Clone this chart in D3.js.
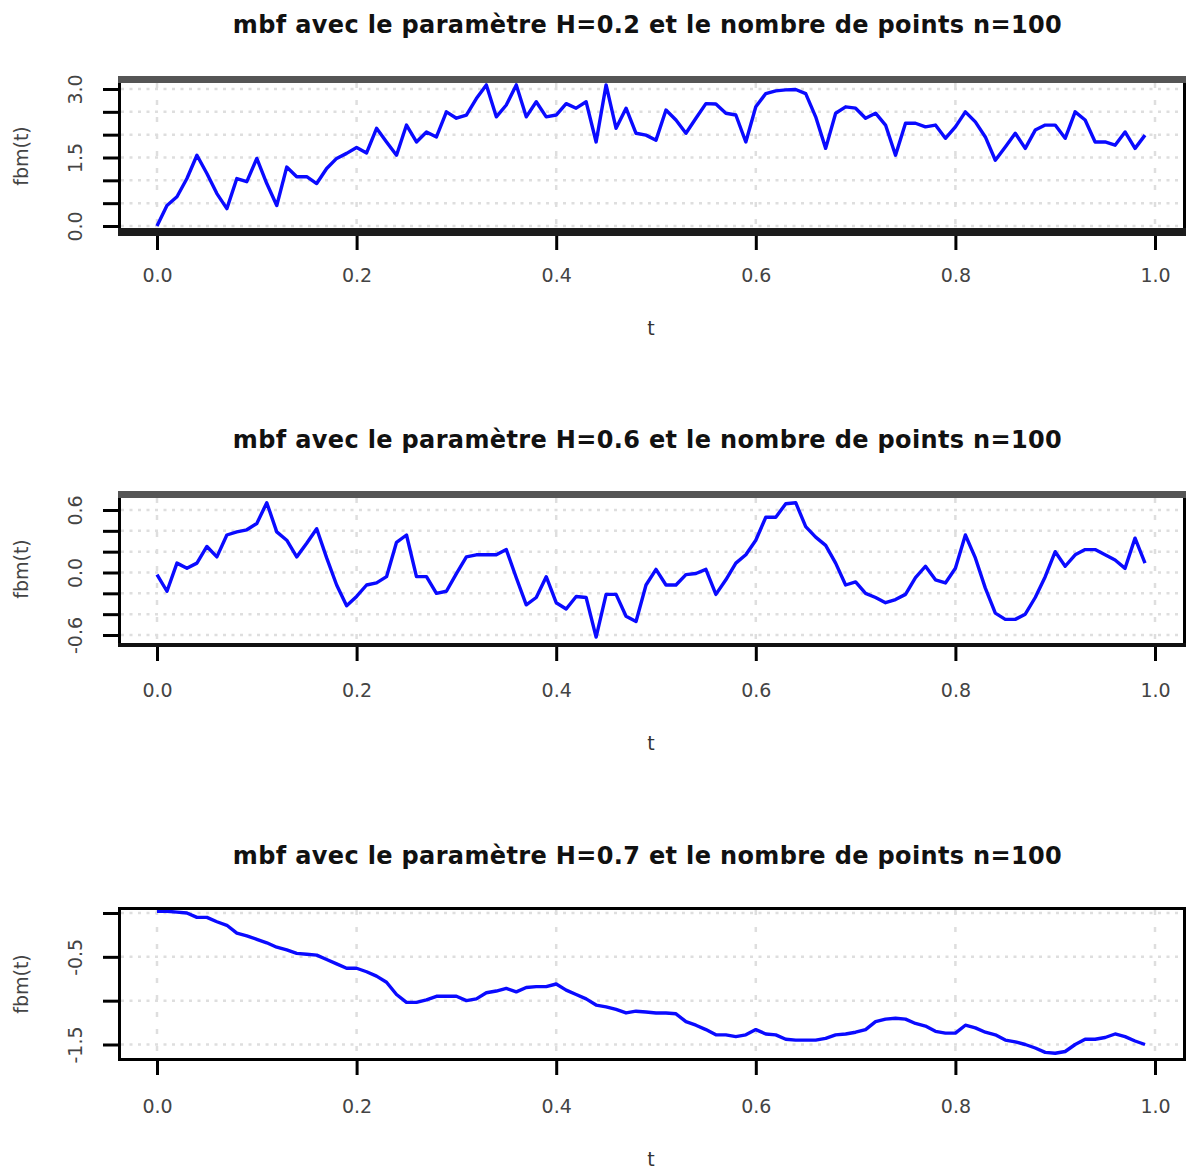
<!DOCTYPE html>
<html><head><meta charset="utf-8">
<script src="https://cdn.jsdelivr.net/npm/d3@7"></script>
<style>body{margin:0;background:#fff}svg{display:block}</style>
</head><body>
<svg id="c" width="1187" height="1171"></svg>
<script>
// ---------- data ----------
const tValues = [0.00,0.01,0.02,0.03,0.04,0.05,0.06,0.07,0.08,0.09,0.10,0.11,0.12,0.13,0.14,0.15,0.16,0.17,0.18,0.19,
0.20,0.21,0.22,0.23,0.24,0.25,0.26,0.27,0.28,0.29,0.30,0.31,0.32,0.33,0.34,0.35,0.36,0.37,0.38,0.39,
0.40,0.41,0.42,0.43,0.44,0.45,0.46,0.47,0.48,0.49,0.50,0.51,0.52,0.53,0.54,0.55,0.56,0.57,0.58,0.59,
0.60,0.61,0.62,0.63,0.64,0.65,0.66,0.67,0.68,0.69,0.70,0.71,0.72,0.73,0.74,0.75,0.76,0.77,0.78,0.79,
0.80,0.81,0.82,0.83,0.84,0.85,0.86,0.87,0.88,0.89,0.90,0.91,0.92,0.93,0.94,0.95,0.96,0.97,0.98,0.99];

const fbmH02 = [0.00,0.45,0.64,1.04,1.55,1.15,0.71,0.38,1.04,0.97,1.48,0.93,0.45,1.29,1.08,1.08,0.93,1.26,1.48,1.59,
1.72,1.60,2.14,1.84,1.55,2.21,1.84,2.06,1.95,2.50,2.36,2.43,2.79,3.09,2.39,2.65,3.09,2.39,2.72,2.39,
2.43,2.68,2.58,2.72,1.84,3.09,2.14,2.58,2.03,1.99,1.88,2.54,2.32,2.03,2.36,2.68,2.67,2.47,2.43,1.84,
2.61,2.90,2.96,2.98,2.99,2.90,2.39,1.70,2.47,2.61,2.58,2.36,2.47,2.21,1.55,2.25,2.25,2.17,2.21,1.92,
2.17,2.50,2.28,1.95,1.44,1.73,2.03,1.70,2.10,2.21,2.21,1.92,2.50,2.32,1.84,1.84,1.77,2.06,1.70,1.99];

const fbmH06 = [-0.02,-0.18,0.09,0.04,0.09,0.25,0.15,0.36,0.39,0.41,0.47,0.67,0.39,0.31,0.15,0.28,0.42,0.14,-0.12,-0.32,
-0.23,-0.12,-0.10,-0.04,0.29,0.36,-0.04,-0.04,-0.20,-0.18,-0.01,0.15,0.17,0.17,0.17,0.22,-0.05,-0.31,-0.24,-0.04,
-0.29,-0.35,-0.23,-0.24,-0.62,-0.21,-0.21,-0.42,-0.47,-0.12,0.03,-0.12,-0.12,-0.02,-0.01,0.03,-0.21,-0.07,0.09,0.17,
0.31,0.53,0.53,0.66,0.67,0.44,0.34,0.26,0.09,-0.12,-0.09,-0.20,-0.24,-0.29,-0.26,-0.21,-0.05,0.06,-0.07,-0.10,
0.04,0.36,0.14,-0.15,-0.39,-0.45,-0.45,-0.40,-0.24,-0.04,0.20,0.06,0.17,0.22,0.22,0.17,0.12,0.04,0.33,0.09];

const fbmH07 = [0.02,0.02,0.01,0.00,-0.05,-0.05,-0.10,-0.14,-0.23,-0.26,-0.30,-0.34,-0.39,-0.42,-0.46,-0.47,-0.48,-0.53,-0.58,-0.63,
-0.63,-0.67,-0.72,-0.79,-0.93,-1.02,-1.02,-0.99,-0.95,-0.95,-0.95,-1.00,-0.98,-0.91,-0.89,-0.86,-0.90,-0.85,-0.84,-0.84,
-0.81,-0.88,-0.93,-0.98,-1.05,-1.07,-1.10,-1.14,-1.12,-1.13,-1.14,-1.14,-1.15,-1.24,-1.28,-1.33,-1.39,-1.39,-1.41,-1.39,
-1.33,-1.38,-1.39,-1.44,-1.45,-1.45,-1.45,-1.43,-1.39,-1.38,-1.36,-1.33,-1.24,-1.21,-1.20,-1.21,-1.26,-1.29,-1.35,-1.37,
-1.37,-1.28,-1.31,-1.36,-1.39,-1.45,-1.47,-1.50,-1.54,-1.59,-1.60,-1.58,-1.50,-1.44,-1.44,-1.42,-1.38,-1.41,-1.46,-1.50];

const titles = [
  "mbf avec le paramètre H=0.2 et le nombre de points n=100",
  "mbf avec le paramètre H=0.6 et le nombre de points n=100",
  "mbf avec le paramètre H=0.7 et le nombre de points n=100"
];
const xLabel = "t";
const yLabel = "fbm(t)";
const xTicks = [0, 0.2, 0.4, 0.6, 0.8, 1.0];
const xTickLabels = ["0.0", "0.2", "0.4", "0.6", "0.8", "1.0"];
const yTicks1 = [0, 0.5, 1, 1.5, 2, 2.5, 3];
const yTickLabels1 = ["0.0", "", "", "1.5", "", "", "3.0"];
const yTicks2 = [-0.6, -0.4, -0.2, 0, 0.2, 0.4, 0.6];
const yTickLabels2 = ["-0.6", "", "", "0.0", "", "", "0.6"];
const yTicks3 = [-1.5, -1.0, -0.5, 0];
const yTickLabels3 = ["-1.5", "", "-0.5", ""];

// ---------- layout ----------
const svg = d3.select("#c");
const L = 118, R = 1186;
const x = d3.scaleLinear().domain([0, 1]).range([157, 1155]);

const panels = [
  {series: fbmH02, ticks: yTicks1, labels: yTickLabels1, O: 0,
   ydom: [0, 3], yr: [226, 89], inTop: 83, inBot: 228,
   bands: [{y0: 76, y1: 83, c: "#555"}, {y0: 228, y1: 236, c: "#1c1c1c"}]},
  {series: fbmH06, ticks: yTicks2, labels: yTickLabels2, O: 415,
   ydom: [-0.6, 0.6], yr: [635, 510], inTop: 498, inBot: 643,
   bands: [{y0: 491, y1: 498, c: "#555"}, {y0: 643, y1: 647, c: "#111"}]},
  {series: fbmH07, ticks: yTicks3, labels: yTickLabels3, O: 831,
   ydom: [-1.5, 0], yr: [1044.5, 913], inTop: 910, inBot: 1058,
   bands: [{y0: 907, y1: 910, c: "#000"}, {y0: 1058, y1: 1061, c: "#000"}]}
];

const font = "'DejaVu Sans', sans-serif";

panels.forEach((p, k) => {
  const g = svg.append("g");
  const y = d3.scaleLinear().domain(p.ydom).range(p.yr);
  const top = p.bands[0].y0, bot = p.bands[1].y1;

  // grid
  g.append("g").selectAll("line").data(xTicks).join("line")
    .attr("x1", d => x(d)).attr("x2", d => x(d))
    .attr("y1", p.inTop).attr("y2", p.inBot)
    .attr("stroke", "#dedede").attr("stroke-width", 2.5)
    .attr("stroke-dasharray", "5 12");
  g.append("g").selectAll("line").data(p.ticks).join("line")
    .attr("x1", L + 3).attr("x2", R - 2)
    .attr("y1", d => y(d)).attr("y2", d => y(d))
    .attr("stroke", "#dedede").attr("stroke-width", 2.5)
    .attr("stroke-dasharray", "3 5.5");

  // line
  const line = d3.line().x((d, i) => x(tValues[i])).y(d => y(d));
  g.append("path").datum(p.series)
    .attr("d", line).attr("fill", "none")
    .attr("stroke", "#0a0aff").attr("stroke-width", 3.4)
    .attr("stroke-linejoin", "round");

  // box
  g.append("rect").attr("x", L).attr("y", top).attr("width", 3).attr("height", bot - top).attr("fill", "#000");
  g.append("rect").attr("x", R - 3).attr("y", top).attr("width", 3).attr("height", bot - top).attr("fill", "#000");
  p.bands.forEach(b => {
    g.append("rect").attr("x", L).attr("y", b.y0).attr("width", R - L).attr("height", b.y1 - b.y0).attr("fill", b.c);
  });

  // y axis
  const gy = g.append("g").attr("transform", `translate(${L},0)`)
    .call(d3.axisLeft(y).tickValues(p.ticks).tickFormat((d, i) => p.labels[i]).tickSize(15));
  gy.select(".domain").remove();
  gy.selectAll(".tick line").attr("stroke", "#000").attr("stroke-width", 3);
  gy.selectAll(".tick text")
    .attr("x", 0).attr("y", 0).attr("dy", "0.36em")
    .attr("transform", "translate(-43,0) rotate(-90)")
    .attr("text-anchor", "middle")
    .attr("font-family", font).attr("font-size", 19).attr("fill", "#444");

  // x axis
  const gx = g.append("g").attr("transform", `translate(0,${bot})`)
    .call(d3.axisBottom(x).tickValues(xTicks).tickFormat((d, i) => xTickLabels[i]).tickSize(14));
  gx.select(".domain").remove();
  gx.selectAll(".tick line").attr("stroke", "#000").attr("stroke-width", 3);
  gx.selectAll(".tick text")
    .attr("y", 282 + p.O - bot).attr("dy", 0)
    .attr("font-family", font).attr("font-size", 19).attr("fill", "#444");

  // titles
  const tt = g.append("text").attr("x", 647.5).attr("y", 33 + p.O)
    .attr("text-anchor", "middle").attr("font-family", font)
    .attr("font-weight", "bold").attr("font-size", 24).attr("fill", "#111")
    .text(titles[k]);
  const w = tt.node().getComputedTextLength();
  const n = titles[k].length;
  tt.attr("letter-spacing", ((829 - w) / (n - 1)).toFixed(3));

  g.append("text").attr("x", 651).attr("y", 335 + p.O)
    .attr("text-anchor", "middle").attr("font-family", font)
    .attr("font-size", 19).attr("fill", "#333").text(xLabel);

  g.append("text").attr("transform", `translate(28,${(top + bot) / 2}) rotate(-90)`)
    .attr("text-anchor", "middle").attr("font-family", font)
    .attr("font-size", 19).attr("fill", "#444").text(yLabel);
});
</script>
</body></html>
